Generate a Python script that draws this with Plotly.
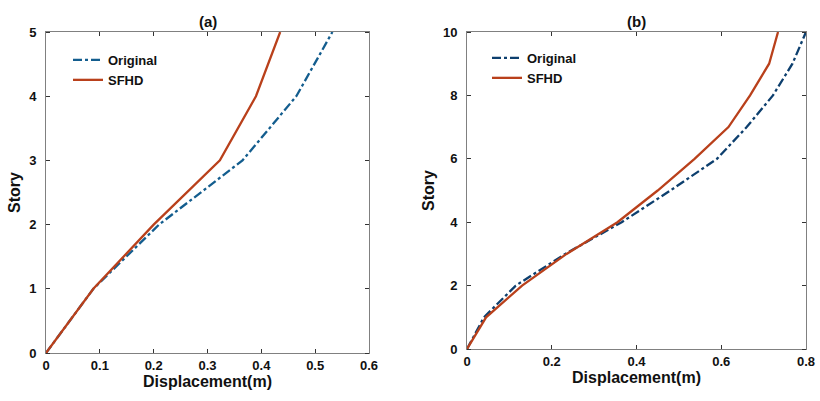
import plotly.graph_objects as go

# (a) 5-story
stories_a = [0, 1, 2, 3, 4, 5]
orig_a = [0, 0.088, 0.21, 0.365, 0.465, 0.532]
sfhd_a = [0, 0.088, 0.200, 0.323, 0.390, 0.435]

# (b) 10-story
stories_b = [0, 1, 2, 3, 4, 5, 6, 7, 8, 9, 10]
orig_b = [0, 0.04, 0.115, 0.232, 0.365, 0.48, 0.59, 0.66, 0.722, 0.768, 0.80]
sfhd_b = [0, 0.045, 0.13, 0.235, 0.355, 0.45, 0.537, 0.617, 0.668, 0.713, 0.734]

xticks_a = [0, 0.1, 0.2, 0.3, 0.4, 0.5, 0.6]
yticks_a = [0, 1, 2, 3, 4, 5]
xticks_b = [0, 0.2, 0.4, 0.6, 0.8]
yticks_b = [0, 2, 4, 6, 8, 10]

W, H = 820, 401
L, R, T, B = 46, 14, 32, 48
PW, PH = W - L - R, H - T - B
FONT = "Liberation Sans, Arial, sans-serif"
AX = "#808080"
RED = "#b9401b"

fig = go.Figure()
fig.add_trace(go.Scatter(x=orig_a, y=stories_a, mode="lines", name="Original",
                         line=dict(color="#135d8e", width=2.3, dash="dashdot"),
                         xaxis="x", yaxis="y", legend="legend"))
fig.add_trace(go.Scatter(x=sfhd_a, y=stories_a, mode="lines", name="SFHD",
                         line=dict(color=RED, width=2.3),
                         xaxis="x", yaxis="y", legend="legend"))
fig.add_trace(go.Scatter(x=orig_b, y=stories_b, mode="lines", name="Original",
                         line=dict(color="#0d3f6e", width=2.3, dash="dashdot"),
                         xaxis="x2", yaxis="y2", legend="legend2"))
fig.add_trace(go.Scatter(x=sfhd_b, y=stories_b, mode="lines", name="SFHD",
                         line=dict(color=RED, width=2.3),
                         xaxis="x2", yaxis="y2", legend="legend2"))

def px(x):
    return (x - L) / PW

def py(y):
    return (H - B - y) / PH

tickfont = dict(family=FONT, size=13, color="#111", weight="bold")
title_font = dict(family=FONT, size=16, color="#111", weight="bold")

x_common = dict(showline=True, linecolor=AX, linewidth=1, mirror="ticks",
                ticks="inside", ticklen=4, tickcolor="#333", showgrid=False,
                zeroline=False, automargin=False, tickfont=tickfont)

def y_axis(vals, rng, dom, anchor):
    # major ticks outside & invisible (to space the labels), visible inside ticks as minor
    return dict(domain=dom, range=rng, tickvals=vals, anchor=anchor,
                showline=True, linecolor=AX, linewidth=1, mirror="ticks",
                ticks="outside", ticklen=6, tickcolor="rgba(0,0,0,0)",
                showgrid=False, zeroline=False, automargin=False, tickfont=tickfont,
                minor=dict(tickvals=vals, ticks="inside", ticklen=4, tickcolor="#333",
                           showgrid=False),
                title=dict(text="Story", standoff=4, font=title_font))

fig.update_layout(
    width=W, height=H,
    margin=dict(l=L, r=R, t=T, b=B),
    paper_bgcolor="white", plot_bgcolor="white",
    showlegend=True,
    xaxis=dict(domain=[px(46), px(369)], range=[0, 0.6], tickvals=xticks_a,
               ticktext=[f"{v:g}" for v in xticks_a], anchor="y",
               title=dict(text="Displacement(m)", standoff=0, font=title_font),
               **x_common),
    yaxis=y_axis(yticks_a, [0, 5], [py(353), py(32)], "x"),
    xaxis2=dict(domain=[px(467), px(806)], range=[0, 0.8], tickvals=xticks_b,
                ticktext=[f"{v:g}" for v in xticks_b], anchor="y2",
                title=dict(text="Displacement(m)", standoff=0, font=title_font),
                **x_common),
    yaxis2=y_axis(yticks_b, [0, 10], [py(349), py(32)], "x2"),
    legend=dict(x=px(68), y=py(45), xanchor="left", yanchor="top",
                bgcolor="rgba(0,0,0,0)", tracegroupgap=0, itemwidth=30,
                font=dict(family=FONT, size=13, color="#111", weight="bold")),
    legend2=dict(x=px(487), y=py(43), xanchor="left", yanchor="top",
                 bgcolor="rgba(0,0,0,0)", tracegroupgap=0, itemwidth=30,
                 font=dict(family=FONT, size=13, color="#111", weight="bold")),
    annotations=[
        dict(text="(a)", x=px(208), y=py(21), xref="paper", yref="paper",
             xanchor="center", yanchor="middle", showarrow=False,
             font=dict(family=FONT, size=15, color="#111", weight="bold")),
        dict(text="(b)", x=px(636), y=py(21), xref="paper", yref="paper",
             xanchor="center", yanchor="middle", showarrow=False,
             font=dict(family=FONT, size=15, color="#111", weight="bold")),
    ],
)

fig.write_html("out.html", config={"displayModeBar": False},
               post_script="document.body.style.margin='0';document.body.style.overflow='hidden';")
